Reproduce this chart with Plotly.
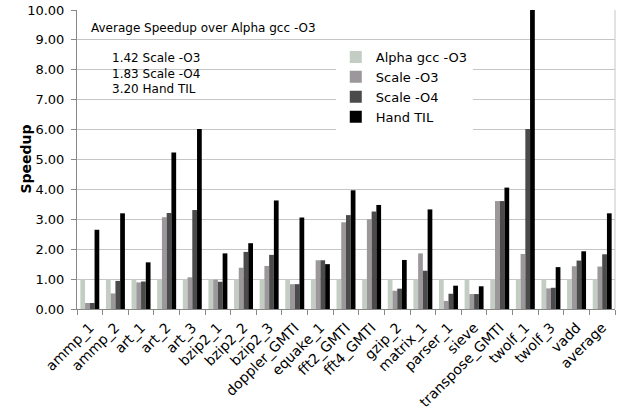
import plotly.graph_objects as go

categories = ["ammp_1", "ammp_2", "art_1", "art_2", "art_3", "bzip2_1", "bzip2_2",
              "bzip2_3", "doppler_GMTI", "equake_1", "fft2_GMTI", "fft4_GMTI", "gzip_2",
              "matrix_1", "parser_1", "sieve", "transpose_GMTI", "twolf_1", "twolf_3",
              "vadd", "average"]

alpha_gcc_o3 = [1.00] * 21
scale_o3 = [0.20, 0.52, 0.89, 3.07, 1.06, 0.98, 1.38, 1.44, 0.83, 1.63, 2.90, 3.00, 0.61,
            1.86, 0.27, 0.50, 3.61, 1.84, 0.69, 1.43, 1.42]
scale_o4 = [0.20, 0.94, 0.92, 3.21, 3.31, 0.91, 1.91, 1.81, 0.83, 1.63, 3.14, 3.26, 0.68,
            1.28, 0.51, 0.50, 3.61, 6.02, 0.71, 1.62, 1.83]
hand_til = [2.65, 3.20, 1.56, 5.23, 6.02, 1.86, 2.20, 3.63, 3.06, 1.50, 3.97, 3.48, 1.64,
            3.33, 0.78, 0.76, 4.06, 10.0, 1.40, 1.93, 3.20]

series_names = ["Alpha gcc -O3", "Scale -O3", "Scale -O4", "Hand TIL"]
series_values = [alpha_gcc_o3, scale_o3, scale_o4, hand_til]
series_colors = ["#c3cdc3", "#9b979b", "#4b4b4b", "#000000"]

y_ticks = [0, 1, 2, 3, 4, 5, 6, 7, 8, 9, 10]

FONT = "DejaVu Sans"

fig = go.Figure()
for name, vals, col in zip(series_names, series_values, series_colors):
    fig.add_trace(go.Bar(name=name, x=categories, y=vals, marker_color=col,
                         marker_line_width=0))

fig.update_layout(
    width=618, height=412,
    margin=dict(l=77, r=3, t=10, b=103, autoexpand=False),
    paper_bgcolor="white", plot_bgcolor="white",
    barmode="group", bargap=0.26, bargroupgap=0,
    font=dict(family=FONT, size=12, color="#000000"),
    showlegend=True,
    legend=dict(x=0.481, y=0.893, xanchor="left", yanchor="top",
                bgcolor="white", borderwidth=0,
                font=dict(family=FONT, size=13, color="#000000"),
                itemwidth=30, tracegroupgap=0, itemsizing="constant"),
    xaxis=dict(type="category", tickangle=-45, tickson="boundaries", ticks="outside",
               ticklen=5, tickcolor="#888888", showline=True, linecolor="#888888",
               linewidth=1, showgrid=False, tickfont=dict(family=FONT, size=14),
               automargin=False, ticklabelstandoff=4),
    yaxis=dict(range=[0, 10], tickvals=y_ticks, tickformat=".2f", ticks="outside",
               ticklen=5, tickcolor="#888888", showline=True, linecolor="#888888",
               linewidth=1, showgrid=True, gridcolor="#c6c6c6", gridwidth=1,
               tickfont=dict(family=FONT, size=13), zeroline=False,
               automargin=False, ticklabelstandoff=4),
    annotations=[
        dict(text="<b>Speedup</b>", xref="paper", yref="paper", x=0, y=0.5,
             xshift=-62, textangle=-90, showarrow=False,
             font=dict(family=FONT, size=14)),
        dict(text="Average Speedup over Alpha gcc -O3", xref="paper", yref="paper",
             x=0.022, y=0.94, xanchor="left", yanchor="middle", showarrow=False,
             font=dict(family=FONT, size=12)),
        dict(text="1.42 Scale -O3<br>1.83 Scale -O4<br>3.20 Hand TIL",
             xref="paper", yref="paper", x=0.062, y=0.789, xanchor="left",
             yanchor="middle", align="left", showarrow=False,
             font=dict(family=FONT, size=12)),
    ],
    shapes=[dict(type="line", xref="paper", yref="paper", x0=1, x1=1, y0=0, y1=1,
                 line=dict(color="#c6c6c6", width=1))],
)

fig.write_html("out.html", post_script="document.body.style.margin='0';",
               config={"displayModeBar": False})
